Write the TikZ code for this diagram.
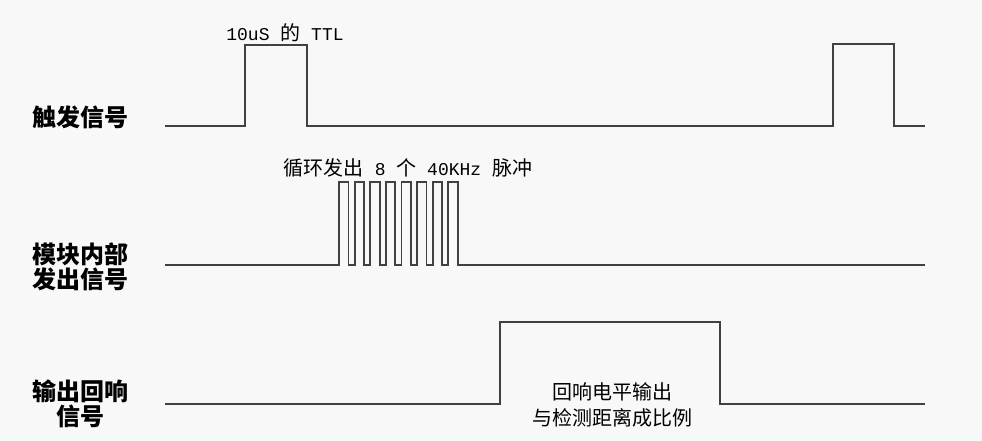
\documentclass[tikz,border=0pt]{standalone}
\usepackage{fontspec}
\setmonofont{Liberation Mono}
\newfontfamily\cjk{Noto Sans CJK SC}
\usepackage{tikz}
\usetikzlibrary{positioning}
\definecolor{bgcolor}{RGB}{248, 248, 248}
\definecolor{wavecolor}{RGB}{65, 65, 65}
\newcommand{\latin}[1]{{\ttfamily\fontsize{18}{20}\selectfont #1}}

\begin{document}
\begin{tikzpicture}[
    x=1pt, y=-1pt,
    signal/.style={wavecolor, line width=1.8pt, line join=miter},
    rowlabel/.style={font=\cjk\bfseries\fontsize{24}{25}\selectfont, align=center, inner sep=0pt},
    note/.style={font=\cjk\fontsize{20}{26}\selectfont, align=center, inner sep=0pt}
]
    % Background and size
    \fill[bgcolor] (0,0) rectangle (982,441);
    \useasboundingbox (0,0) rectangle (982,441);

    % Row labels
    \node[rowlabel] (trig) at (80,117) {触发信号};
    \node[rowlabel] (burst) at (80,266.5) {模块内部\\发出信号};
    \node[rowlabel] (echo) at (80,404) {输出回响\\信号};

    % Trigger signal
    \draw[signal] (165,126) -- (245,126) -- (245,45) -- (307,45) -- (307,126)
        -- (833,126) -- (833,44) -- (894,44) -- (894,126) -- (925,126);
    \node[note] (ttl) at (285,33) {\latin{10uS }的\latin{ TTL}};

    % Module burst signal
    \draw[signal] (165,265) -- (339,265)
        foreach \k in {0,...,7} { -- ++(0,-83) -- ++(9.5,0) -- ++(0,83) -- ++(6.1,0) }
        -- (925,265);
    \node[note] (pulses) at (408,168) {循环发出\latin{ 8 }个\latin{ 40KHz }脉冲};

    % Echo output signal
    \draw[signal] (165,404) -- (500,404) -- (500,322) -- (720,322) -- (720,404) -- (925,404);
    \node[note] (width) at (612,405) {回响电平输出\\与检测距离成比例};
\end{tikzpicture}
\end{document}
